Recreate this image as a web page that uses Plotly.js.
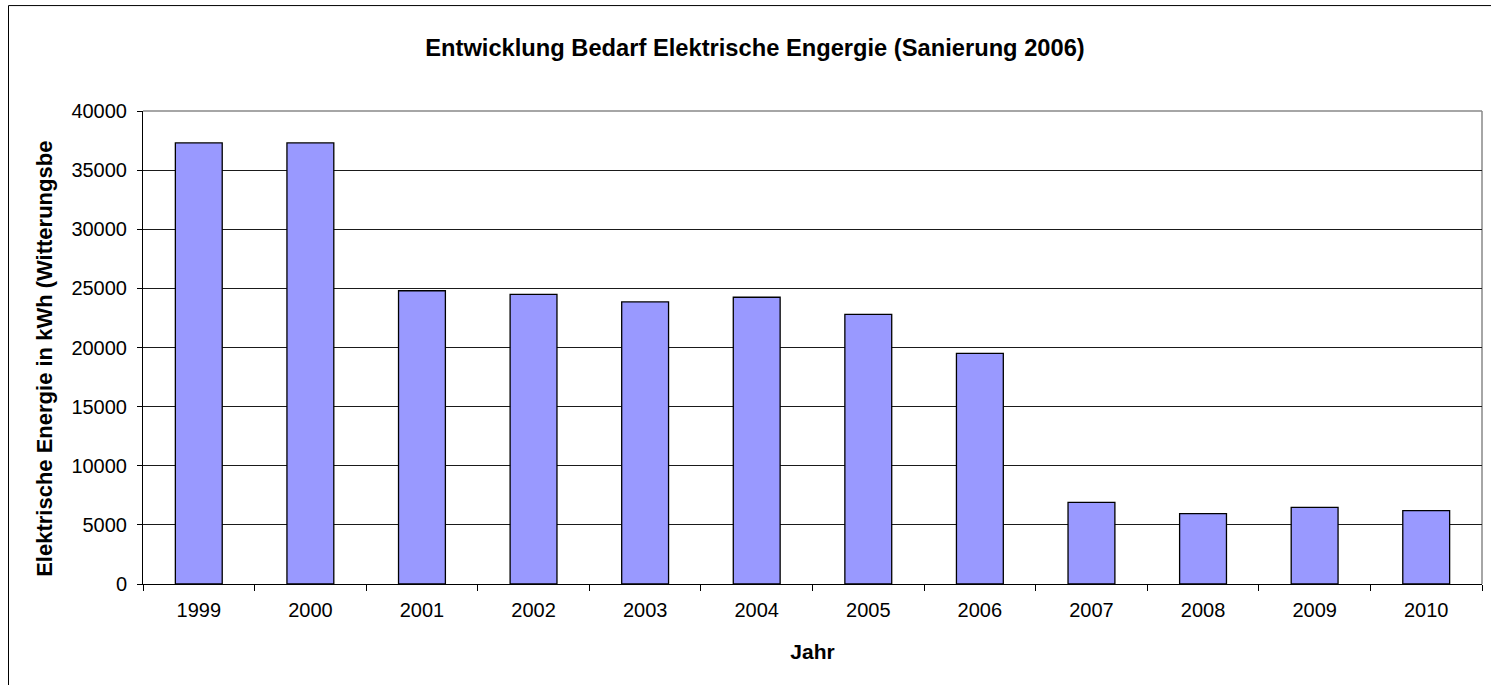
<!DOCTYPE html>
<html>
<head>
<meta charset="utf-8">
<script src="https://cdn.plot.ly/plotly-3.0.1.min.js"></script>
<style>
html,body{margin:0;padding:0;background:#fff;}
#chart{width:1491px;height:685px;}
</style>
</head>
<body>
<div id="chart"></div>
<script>
const years = ["1999","2000","2001","2002","2003","2004","2005","2006","2007","2008","2009","2010"];
const energy = [37300,37300,24800,24500,23850,24250,22800,19500,6900,5950,6480,6200];
const yTicks = [0,5000,10000,15000,20000,25000,30000,35000,40000];

const L = 143, R = 1482, T = 111, B = 584.3, W = 1491, H = 685;
const pw = R - L, ph = B - T;
const px = v => (v - L) / pw;
const py = v => (B - v) / ph;

const trace = {
  type: "bar",
  x: years,
  y: energy,
  marker: {color: "#9999FF", line: {color: "#000000", width: 1.3}},
  hoverinfo: "x+y"
};

const layout = {
  width: W, height: H,
  margin: {l: L, r: W - R, t: T, b: H - B, pad: 0},
  paper_bgcolor: "#ffffff",
  plot_bgcolor: "#ffffff",
  showlegend: false,
  bargap: 0.58,
  font: {family: "Liberation Sans, Arial, sans-serif", size: 20, color: "#000"},
  title: {
    text: "<b>Entwicklung Bedarf Elektrische Engergie (Sanierung 2006)</b>",
    font: {family: "Liberation Sans, Arial, sans-serif", size: 23.7, color: "#000"},
    xref: "container", yref: "container",
    x: 755 / W, xanchor: "center",
    y: 1 - 48 / H, yanchor: "middle"
  },
  xaxis: {
    type: "category",
    tickson: "boundaries",
    ticks: "outside", ticklen: 6, tickcolor: "#000", tickwidth: 1,
    ticklabelstandoff: 8,
    showline: true, linecolor: "#000", linewidth: 1,
    showgrid: false, zeroline: false,
    tickfont: {size: 20, color: "#000"},
    title: {text: "<b>Jahr</b>", font: {size: 21, color: "#000"}, standoff: 24},
    fixedrange: true
  },
  yaxis: {
    range: [0, 40000],
    tickvals: yTicks,
    ticktext: yTicks.map(String),
    ticks: "outside", ticklen: 5, tickcolor: "#000", tickwidth: 1,
    ticklabelstandoff: 6,
    showline: true, linecolor: "#000", linewidth: 1,
    showgrid: true, gridcolor: "#1a1a1a", gridwidth: 1,
    zeroline: false,
    tickfont: {size: 20, color: "#000"},
    fixedrange: true
  },
  shapes: [
    {type: "line", xref: "paper", yref: "paper", x0: 0, x1: 1, y0: 1, y1: 1, line: {color: "#888", width: 1.5}, layer: "below"},
    {type: "line", xref: "paper", yref: "paper", x0: 1, x1: 1, y0: 0, y1: 1, line: {color: "#888", width: 1.5}, layer: "below"},
    {type: "line", xref: "paper", yref: "paper", x0: px(8.5), x1: px(8.5), y0: py(5.5), y1: py(H + 5), line: {color: "#000", width: 1}},
    {type: "line", xref: "paper", yref: "paper", x0: px(8.5), x1: px(W + 5), y0: py(5.5), y1: py(5.5), line: {color: "#000", width: 1}}
  ],
  annotations: [
    {
      text: "<b>Elektrische Energie in kWh (Witterungsbe</b>",
      xref: "paper", yref: "paper",
      x: px(45), y: py(359),
      xanchor: "center", yanchor: "middle",
      textangle: -90, showarrow: false,
      font: {size: 22, color: "#000"}
    }
  ]
};

Plotly.newPlot("chart", [trace], layout, {displayModeBar: false, staticPlot: true});
</script>
</body>
</html>
